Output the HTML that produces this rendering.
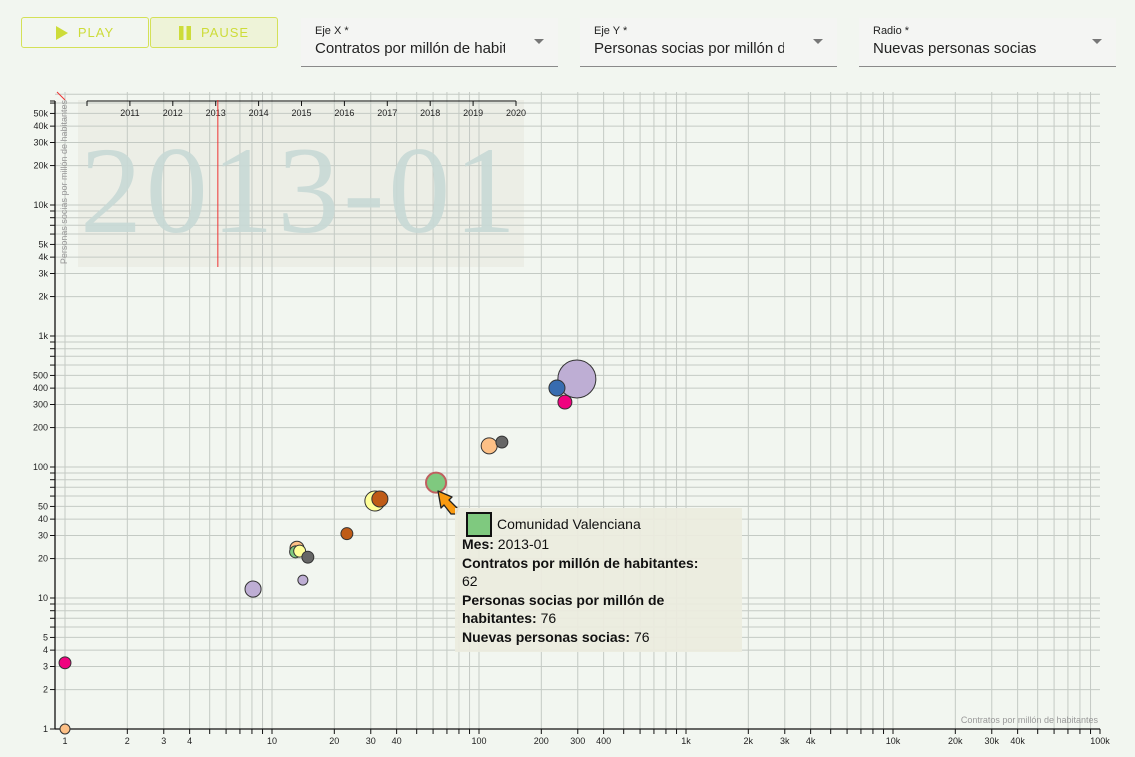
<!DOCTYPE html>
<html><head><meta charset="utf-8">
<style>
body{margin:0;background:#f2f6f0;font-family:"Liberation Sans","DejaVu Sans",sans-serif;width:1135px;height:757px;overflow:hidden;position:relative}
.btn{position:absolute;top:17px;height:29px;width:126px;border:1.5px solid #d4e157;border-radius:3px;color:#cddc39;font-size:13px;letter-spacing:1px;display:flex;align-items:center;justify-content:center;gap:10px;box-sizing:content-box}
.dd{position:absolute;top:18px;width:257px;height:48px;background:#f4f5f3;border-bottom:1px solid #8a8a8a}
.dd .lab{position:absolute;left:14px;top:7px;font-size:11px;color:#222}
.dd .val{position:absolute;left:14px;top:22px;font-size:15px;color:#222;white-space:nowrap;overflow:hidden;width:190px}
.dd .arr{position:absolute;right:14px;top:21px;width:0;height:0;border-left:5px solid transparent;border-right:5px solid transparent;border-top:5px solid #777}
</style></head><body>
<div class="btn" style="left:21px"><svg width="12" height="14"><polygon points="0,0 12,7 0,14" fill="#cddc39"/></svg><span>PLAY</span></div>
<div class="btn" style="left:150px;background:#eef3d8"><svg width="12" height="14"><rect x="0" y="0" width="4.5" height="14" fill="#cddc39"/><rect x="7.5" y="0" width="4.5" height="14" fill="#cddc39"/></svg><span>PAUSE</span></div>
<div class="dd" style="left:301px"><div class="lab">Eje X *</div><div class="val">Contratos por millón de habitantes</div><div class="arr"></div></div>
<div class="dd" style="left:580px"><div class="lab">Eje Y *</div><div class="val">Personas socias por millón de habitantes</div><div class="arr"></div></div>
<div class="dd" style="left:859px"><div class="lab">Radio *</div><div class="val">Nuevas personas socias</div><div class="arr"></div></div>

<svg id="chart" width="1135" height="757" style="position:absolute;left:0;top:0"></svg>

<div style="position:absolute;left:455px;top:508px;width:287px;height:144px;background:rgba(236,236,222,0.92);font-size:14px;line-height:18.5px;color:#111;padding:0 0 0 7px;box-sizing:border-box">
<div style="height:27px;position:relative"><span style="position:absolute;left:4px;top:4px;width:22px;height:21px;background:#7fc97f;border:2px solid #111"></span><span style="position:absolute;left:35px;top:7px">Comunidad Valenciana</span></div>
<div><b>Mes:</b> 2013-01</div>
<div><b>Contratos por millón de habitantes:</b><br>62</div>
<div><b>Personas socias por millón de<br>habitantes:</b> 76</div>
<div><b>Nuevas personas socias:</b> 76</div>
</div>

<script>
const regions=["Andalucía","Aragón","Asturias","Baleares","Canarias","C. Valenciana","Castilla-La Mancha","Cataluña","Galicia","Madrid","Murcia","Navarra","País Vasco","Rioja","Cantabria","Extremadura","Castilla y León"];
const contratos=[297,238,260,112,129,62,31.4,33.2,23,13.2,13.0,13.6,14.9,14.1,8.1,1,1];
const socias=[470,401,313,145,155,76,55,57,31,24,22.5,22.8,20.5,13.7,11.7,3.2,1];
const nuevas=[274,49,37,49,27,76,76,49,27,37,27,27,27,19,49,27,19];
const colors=["#beaed4","#386cb0","#f0027f","#fdc086","#666666","#7fc97f","#ffff99","#bf5b17","#bf5b17","#fdc086","#7fc97f","#ffff99","#666666","#beaed4","#beaed4","#f0027f","#fdc086"];
const xTicks=[1,2,3,4,10,20,30,40,100,200,300,400,1000,2000,3000,4000,10000,20000,30000,40000,100000];
const yTicks=[1,2,3,4,5,10,20,30,40,50,100,200,300,400,500,1000,2000,3000,4000,5000,10000,20000,30000,40000,50000];
const years=[2011,2012,2013,2014,2015,2016,2017,2018,2019,2020];
const currentDate=2013.05;

const NS="http://www.w3.org/2000/svg";
const svg=document.getElementById('chart');
const X0=65,XD=207,Y0=729,YD=131,TOP=92,RIGHT=1100;
const xs=v=>X0+Math.log10(v)*XD;
const ys=v=>Y0-Math.log10(v)*YD;
const fmt=v=>v>=1000?(v/1000)+'k':String(v);
function mk(t,a,p){const e=document.createElementNS(NS,t);for(const k in a)e.setAttribute(k,a[k]);(p||svg).appendChild(e);return e;}

const yb=mk('rect',{x:78,y:100,width:446,height:167,fill:'#eceee6'});



const grid=mk('g',{stroke:'#c4cac4','stroke-width':1});


for(let d=0;d<5;d++)for(let m=1;m<10;m++){const v=m*Math.pow(10,d);const x=xs(v);mk('line',{x1:x,x2:x,y1:TOP,y2:Y0},grid);}
for(let d=0;d<5;d++)for(let m=1;m<10;m++){const v=m*Math.pow(10,d);const y=ys(v);if(y<TOP)continue;mk('line',{x1:55,x2:RIGHT,y1:y,y2:y},grid);}

const big=mk('text',{x:80,y:232,'font-family':'Liberation Serif, serif','font-size':124,fill:'#c8d8d5','fill-opacity':0.9,textLength:436});
big.textContent='2013-01';



const ya=mk('g',{});


const yrx=y=>87+(y-2010)*42.9;
mk('line',{x1:87,x2:516,y1:101,y2:101,stroke:'#111'},ya);
mk('line',{x1:87,x2:87,y1:101,y2:106,stroke:'#111'},ya);
years.forEach(y=>{mk('line',{x1:yrx(y),x2:yrx(y),y1:101,y2:106,stroke:'#111'},ya);const t=mk('text',{x:yrx(y),y:116,'font-size':9,'text-anchor':'middle',fill:'#222'},ya);t.textContent=y;});
const cur=mk('line',{x1:yrx(currentDate),x2:yrx(currentDate),y1:100,y2:267,stroke:'#e33',"stroke-width":1});


mk('line',{x1:57,x2:65,y1:92,y2:100,stroke:'#e33'});

const xa=mk('g',{});


mk('line',{x1:55,x2:RIGHT,y1:Y0,y2:Y0,stroke:'#111','stroke-width':1.3},xa);
for(let d=0;d<5;d++)for(let m=1;m<10;m++){const x=xs(m*Math.pow(10,d));mk('line',{x1:x,x2:x,y1:Y0,y2:Y0+5,stroke:'#111'},xa);}
mk('line',{x1:RIGHT,x2:RIGHT,y1:Y0,y2:Y0+5,stroke:'#111'},xa);
xTicks.forEach(v=>{const t=mk('text',{x:xs(v),y:744,'font-size':9,'text-anchor':'middle',fill:'#222'},xa);t.textContent=fmt(v);});
const xt=mk('text',{x:1098,y:723,'font-size':9,'text-anchor':'end',fill:'#999'});
xt.textContent='Contratos por millón de habitantes';



const yax=mk('g',{});


mk('line',{x1:55,x2:55,y1:101,y2:Y0,stroke:'#111','stroke-width':1.3},yax);
mk('line',{x1:50,x2:55,y1:101,y2:101,stroke:'#111'},yax);
for(let d=0;d<5;d++)for(let m=1;m<10;m++){const y=ys(m*Math.pow(10,d));if(y<101)continue;mk('line',{x1:50,x2:55,y1:y,y2:y,stroke:'#111'},yax);}
yTicks.forEach(v=>{const t=mk('text',{x:48,y:ys(v)+3,'font-size':9,'text-anchor':'end',fill:'#222'},yax);t.textContent=fmt(v);});
const yt=mk('text',{x:0,y:0,'font-size':9,'text-anchor':'end',fill:'#999',transform:'translate(67,100) rotate(-90)'});
yt.textContent='Personas socias por millón de habitantes';



const bg=mk('g',{});


const K=10/Math.sqrt(76);
contratos.forEach((c,i)=>{
  const hl=i===5;
  const e=mk('circle',{cx:xs(c),cy:ys(socias[i]),r:K*Math.sqrt(nuevas[i]),fill:colors[i],stroke:hl?'#c06060':'#333','stroke-width':hl?2:1},bg);
  
  
});

const cu=mk('path',{d:'M438,491 L452,497 L449,500 L458,509 L456,514 L451,514 L444,505 L441,508 Z',fill:'#f99a10',stroke:'#222','stroke-width':1.3,'stroke-linejoin':'round'});


</script>
</body></html>
